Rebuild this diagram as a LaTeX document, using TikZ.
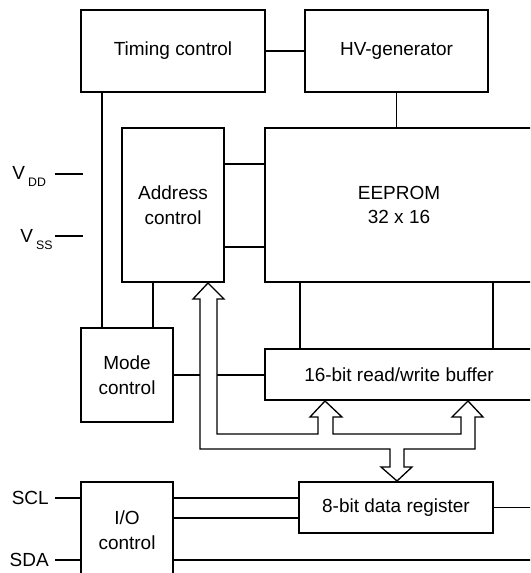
\documentclass[tikz,border=0pt]{standalone}
\usepackage{fontspec}
\setmainfont{Liberation Sans}
\newcommand{\blockfont}{\fontsize{10.8}{14}\selectfont}
\newcommand{\pinsub}{\fontsize{7}{8}\selectfont}
\tikzset{
  block/.style={draw,line width=1.5pt,inner sep=0pt,align=center,font=\blockfont},
  boxsize/.style 2 args={minimum width=#1*0.02cm,minimum height=#2*0.02cm},
  wire/.style={draw,line width=0.75pt},
  bus/.style={draw,fill=white,line width=0.75pt,line join=miter},
  pinlabel/.style={inner sep=0pt,font=\blockfont}
}
\begin{document}
\begin{tikzpicture}[x=0.02cm,y=-0.02cm]
  \useasboundingbox (0,0) rectangle (530,573);
  \clip (0,0) rectangle (530,573);
  \node[block,boxsize={184}{82}] (timing) at (173,51) {Timing control};
  \node[block,boxsize={183}{82}] (hvgen) at (396.5,51) {HV-generator};
  \node[block,boxsize={102}{154}] (addr) at (173,205) {Address\\control};
  \node[block,boxsize={268}{154}] (eeprom) at (399,205) {EEPROM\\32 x 16};
  \node[block,boxsize={92}{94}] (mode) at (127,375) {Mode\\control};
  \node[block,boxsize={268}{51}] (buffer) at (399,374.5) {16-bit read/write buffer};
  \node[block,boxsize={194}{51}] (dreg) at (396,507.5) {8-bit data register};
  \node[block,boxsize={92}{96}] (io) at (127,530) {I/O\\control};
  \node[pinlabel,anchor=base west] (vdd) at (12,180) {V\,\raisebox{-3.5pt}{\pinsub DD}};
  \node[pinlabel,anchor=base west] (vss) at (20,243) {V\,\raisebox{-3.5pt}{\pinsub SS}};
  \node[pinlabel,inner xsep=3.4pt,anchor=east] (scl) at (55,498) {SCL};
  \node[pinlabel,inner xsep=3.4pt,anchor=east] (sda) at (55,560) {SDA};
  \coordinate (vddpin) at (55,174);
  \coordinate (vddend) at (83,174);
  \coordinate (vsspin) at (55,236);
  \coordinate (vssend) at (83,236);
  \coordinate (tapT) at (102,0);
  \coordinate (tapA) at (153,0);
  \coordinate (sdaend) at (535,560);
  \draw[wire] (vddpin) -- (vddend);
  \draw[wire] (vsspin) -- (vssend);
  \draw[wire] (timing) -- (hvgen);
  \draw[wire] (hvgen) -- (hvgen |- eeprom.north);
  \draw[wire] (timing.south -| tapT) -- (mode.north -| tapT);
  \draw[wire] (addr.south -| tapA) -- (mode.north -| tapA);
  \foreach \r in {164,247}
    \draw[wire] (addr.east |- 0,\r) -- (eeprom.west |- 0,\r);
  \foreach \c in {300,493}
    \draw[wire] (eeprom.south -| \c,0) -- (buffer.north -| \c,0);
  \draw[wire] (mode.east) -- (buffer.west |- mode.east);
  \foreach \r in {498,518}
    \draw[wire] (io.east |- 0,\r) -- (dreg.west |- 0,\r);
  \draw[wire] (scl.east) -- (io.west |- scl.east);
  \draw[wire] (sda.east) -- (io.west |- sda.east);
  \draw[wire] (io.east |- sda.east) -- (sdaend);
  \draw[wire] (dreg.east) -- (dreg.east -| sdaend);
  \draw[bus] (208,283) -- (224,299) -- (217,299) -- (217,434) -- (318,434) -- (318,417)
    -- (310,417) -- (325,401) -- (342,417) -- (333,417) -- (333,434) -- (461,434)
    -- (461,417) -- (452,417) -- (468,401) -- (483,417) -- (475,417) -- (475,449)
    -- (404,449) -- (404,467) -- (412,467) -- (397,481) -- (381,467) -- (390,467)
    -- (390,449) -- (200,449) -- (200,299) -- (193,299) -- cycle;
\end{tikzpicture}
\end{document}
